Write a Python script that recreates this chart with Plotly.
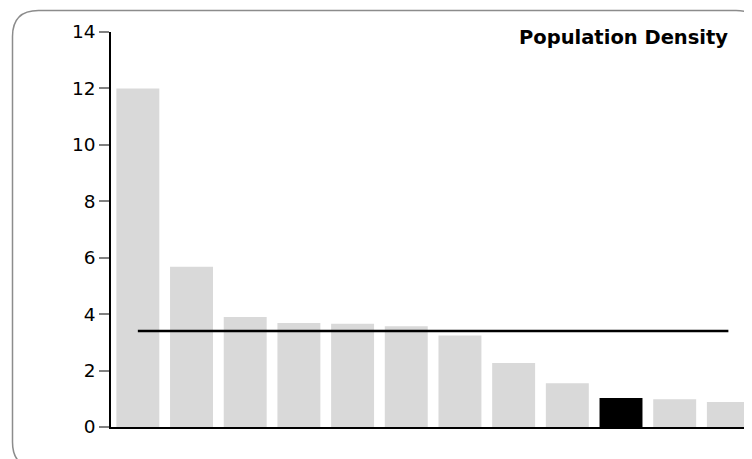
import plotly.graph_objects as go

# bars, left to right (labels are not shown in the chart)
regions = ["R1", "R2", "R3", "R4", "R5", "R6", "R7", "R8", "R9", "R10", "R11", "R12"]
density = [12.0, 5.68, 3.9, 3.69, 3.66, 3.57, 3.24, 2.27, 1.55, 1.03, 0.98, 0.89]
highlight = "R10"
average = 3.4

colors = ["#000000" if r == highlight else "#d9d9d9" for r in regions]

fig = go.Figure()
fig.add_trace(go.Bar(x=regions, y=density, marker_color=colors,
                     marker_line_width=0, width=0.8, hoverinfo="y"))
fig.add_trace(go.Scatter(x=[regions[0], regions[-1]], y=[average, average],
                         mode="lines", line=dict(color="#000000", width=2.5),
                         hoverinfo="skip"))

# page body has an 8px margin, so the figure is laid out 8px in from the window
OFF = 8
FW, FH = 752 - OFF, 459 - OFF
L, T, W, H = 111 - OFF, 32 - OFF, 641, 395


def px(x):
    return (x - OFF - L) / W


def py(y):
    return (T + H - (y - OFF)) / H


# rounded frame (window pixel coords converted to paper fractions)
x0, y0, x1, y1, r = 12.5, 10.5, 762, 468, 26
path = (f"M {px(x0)},{py(y0 + r)} "
        f"Q {px(x0)},{py(y0)} {px(x0 + r)},{py(y0)} "
        f"L {px(x1 - r)},{py(y0)} "
        f"Q {px(x1)},{py(y0)} {px(x1)},{py(y0 + r)} "
        f"L {px(x1)},{py(y1 - r)} "
        f"Q {px(x1)},{py(y1)} {px(x1 - r)},{py(y1)} "
        f"L {px(x0 + r)},{py(y1)} "
        f"Q {px(x0)},{py(y1)} {px(x0)},{py(y1 - r)} Z")
fig.add_shape(type="path", path=path, xref="paper", yref="paper",
              line=dict(color="#8c8c8c", width=1.5), fillcolor="rgba(0,0,0,0)",
              layer="below")

fig.add_annotation(text="<b>Population Density</b>", xref="paper", yref="paper",
                   x=px(730), y=py(38), xanchor="right", yanchor="middle",
                   showarrow=False, font=dict(size=19.5, color="#000000"))

fig.update_layout(
    width=FW, height=FH,
    margin=dict(l=L, r=0, t=T, b=FH - T - H),
    paper_bgcolor="white", plot_bgcolor="white",
    showlegend=False, bargap=0.2,
    font=dict(family="DejaVu Sans", size=18.5, color="#000000"),
)
fig.update_xaxes(range=[-0.5, 11.44], showticklabels=False, ticks="",
                 showline=True, linecolor="#000000", linewidth=2,
                 showgrid=False, zeroline=False)
fig.update_yaxes(range=[0, 14], dtick=2, ticks="outside", ticklen=10,
                 tickcolor="#808080", tickwidth=1.5,
                 showline=True, linecolor="#000000", linewidth=1.5,
                 showgrid=False, zeroline=False)

fig.write_html("out.html")
